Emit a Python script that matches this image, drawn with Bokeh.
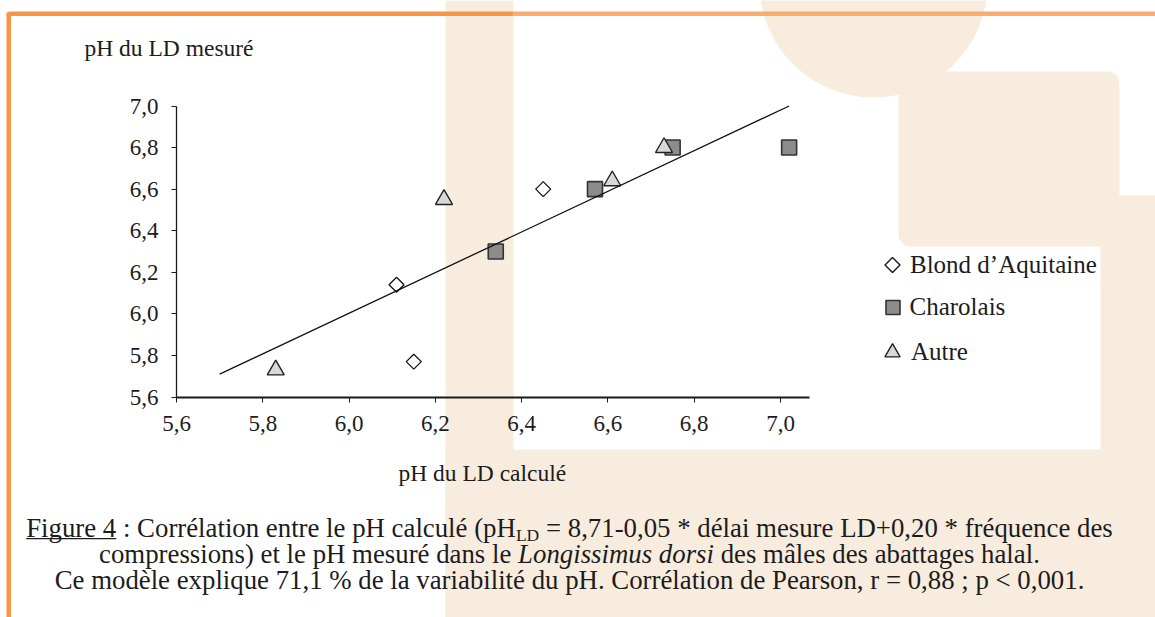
import numpy as np
from bokeh.plotting import figure
from bokeh.models import (Range1d, FixedTicker, CustomJSTickFormatter, Label, BoxAnnotation,
                          PolyAnnotation, Legend, LegendItem)
from bokeh.embed import file_html
from bokeh.resources import INLINE

# ---------------- data ----------------
blond_x = [6.11, 6.15, 6.45]
blond_y = [6.14, 5.77, 6.60]
charolais_x = [6.34, 6.57, 6.75, 7.02]
charolais_y = [6.30, 6.60, 6.80, 6.80]
autre_x = [5.83, 6.22, 6.61, 6.73]
autre_y = [5.73, 6.55, 6.64, 6.80]
trend_x = [5.70, 7.02]
trend_y = [5.71, 7.00]
x_ticks = [5.6, 5.8, 6.0, 6.2, 6.4, 6.6, 6.8, 7.0]
y_ticks = [5.6, 5.8, 6.0, 6.2, 6.4, 6.6, 6.8, 7.0]
x_axis_bounds = (5.6, 7.068)
y_axis_bounds = (5.6, 7.0)
series_names = ["Blond d\u2019Aquitaine", "Charolais", "Autre"]
x_title = "pH du LD calculé"
y_title = "pH du LD mesuré"
cap1 = ["Figure 4", ": Corrélation entre le pH calculé (pH", "LD",
        "= 8,71-0,05 * délai mesure LD+0,20 * fréquence des"]
cap2 = ["compressions) et le pH mesuré dans le", "Longissimus dorsi",
        "des mâles des abattages halal."]
cap3 = "Ce modèle explique 71,1 % de la variabilité du pH. Corrélation de Pearson, r = 0,88 ; p < 0,001."

# ---------------- figure (frame = whole canvas, axes at fixed locations) ----------------
W, H = 1155, 617
AX_L, AX_B = 176.0, 396.5          # pixel position of the axes origin
PX_X, PX_Y = 431.43, 207.857       # pixels per pH unit
x_rng = Range1d(x_axis_bounds[0] - AX_L / PX_X, x_axis_bounds[0] + (W - AX_L) / PX_X)
y_rng = Range1d(y_axis_bounds[0] - (H - AX_B) / PX_Y, y_axis_bounds[0] + AX_B / PX_Y)

p = figure(width=W, height=H, x_range=x_rng, y_range=y_rng,
           output_backend="svg", toolbar_location=None,
           min_border_left=0, min_border_right=0, min_border_top=0, min_border_bottom=0)
p.outline_line_color = None
p.grid.visible = False
p.background_fill_color = "white"
p.border_fill_color = "white"

FONT = "Liberation Serif"
TXT = "#1c1c1c"
BEIGE = "#f8ecdf"

def cbox(l, r, t, b, color=BEIGE, level="underlay", **kw):
    return BoxAnnotation(left=l, right=r, top=t, bottom=b,
                         left_units="canvas", right_units="canvas",
                         top_units="canvas", bottom_units="canvas",
                         fill_color=color, fill_alpha=1, line_color=None,
                         level=level, **kw)

# decorative background shapes
p.add_layout(cbox(445, 513, 0, H))
p.add_layout(cbox(445, W, 449, H))
p.add_layout(cbox(1100, W, 195, H))
p.add_layout(cbox(898, 1119, 71, 246, border_radius=12))
th = np.linspace(0, np.pi, 60)
p.add_layout(PolyAnnotation(xs=list(873 + 114 * np.cos(th)), ys=list(-17 + 114 * np.sin(th)),
                            xs_units="canvas", ys_units="canvas",
                            fill_color=BEIGE, fill_alpha=1, line_color=None, level="underlay"))
# orange frame
p.add_layout(cbox(6, 513, 11, 15.5, color="#f79646", border_radius=(4, 0, 0, 0)))
p.add_layout(cbox(513, W, 11, 15.5, color="#f9ab70"))
p.add_layout(cbox(6, 10.5, 12, H, color="#f79646"))

# ---------------- axes ----------------
fmt = CustomJSTickFormatter(code="return tick.toFixed(1).replace('.', ',');")
xa_, ya_ = p.xaxis[0], p.yaxis[0]
xa_.fixed_location = y_axis_bounds[0]
xa_.bounds = x_axis_bounds
ya_.fixed_location = x_axis_bounds[0]
ya_.bounds = y_axis_bounds
for ax, ticks in ((xa_, x_ticks), (ya_, y_ticks)):
    ax.ticker = FixedTicker(ticks=ticks)
    ax.formatter = fmt
    ax.major_tick_in = 0
    ax.major_tick_out = 5
    ax.minor_tick_line_color = None
    ax.major_tick_line_color = "#1a1a1a"
    ax.axis_line_color = "#1a1a1a"
    ax.major_label_text_font = FONT
    ax.major_label_text_font_size = "23px"
    ax.major_label_text_color = TXT
xa_.axis_line_width = 2
ya_.axis_line_width = 1.3
ya_.major_label_standoff = 13
xa_.major_label_standoff = 14

# ---------------- data marks ----------------
r_blond = p.scatter(blond_x, blond_y, marker="square", angle=np.pi / 4, size=10.6,
                    fill_color="white", line_color="#111111", line_width=1.3)
r_char = p.scatter(charolais_x, charolais_y, marker="square", size=15,
                   fill_color="#8c8c8c", line_color="#333333", line_width=1.6)
r_autre = p.scatter(autre_x, autre_y, marker="triangle", size=17,
                    fill_color="#d9d9d9", line_color="#222222", line_width=1.4)
p.line(trend_x, trend_y, line_color="#111111", line_width=1.3)

# legend stand-in for the diamond series (legend glyphs are never rotated)
r_blond_key = p.scatter(x=[], y=[], marker="square", size=1, fill_alpha=0, line_alpha=0)

# ---------------- legends (one per item, for individual marker sizes) ----------------
LEG_X = 892  # centre of legend symbols
specs = [(r_blond_key, series_names[0], 2, 36, 17, 264.5),
         (r_char, series_names[1], 35, 36, 0, 307.0),
         (r_autre, series_names[2], 38, 38, 0, 351.5)]
for rend, name, gw, gh, so, yc in specs:
    lg = Legend(items=[LegendItem(label=name, renderers=[rend])],
                location=(LEG_X - gw / 2, H - (yc + gh / 2)),
                glyph_width=gw, glyph_height=gh, label_height=gh, label_standoff=so,
                padding=0, margin=0, spacing=0, border_line_color=None,
                background_fill_alpha=0, label_text_font=FONT,
                label_text_font_size="25px", label_text_color=TXT)
    p.add_layout(lg)
yc0 = specs[0][5]
p.add_layout(PolyAnnotation(xs=[LEG_X, LEG_X + 7.5, LEG_X, LEG_X - 7.5],
                            ys=[yc0 - 7.5, yc0, yc0 + 7.5, yc0],
                            xs_units="canvas", ys_units="canvas",
                            fill_color="white", fill_alpha=1,
                            line_color="#111111", line_alpha=1, line_width=1.4))

# ---------------- texts ----------------
def clabel(x, y, text, size, align="left", style="normal"):
    return Label(x=x, y=y, x_units="canvas", y_units="canvas", text=text,
                 text_font=FONT, text_font_size=f"{size}px", text_align=align,
                 text_baseline="middle", text_font_style=style, text_color=TXT)

p.add_layout(clabel(84, 47, y_title, 23.5))
p.add_layout(clabel(398, 472, x_title, 23.5))

FS = 26.8
SP = 0.25 * FS
SUB = 17.5
CX = 569
c1, c2, c3 = 527, 553, 579
wA, wB, wC, wD = 3.361 * FS, 14.913 * FS, 1.333 * SUB, 21.401 * FS
xa = CX - (wA + wB + wC + wD) / 2
p.add_layout(clabel(xa, c1, cap1[0], FS))
p.add_layout(cbox(xa, xa + wA, c1 + 10.5, c1 + 11.8, color=TXT, level="annotation"))
p.add_layout(clabel(xa + wA + SP, c1, cap1[1], FS))
p.add_layout(clabel(xa + wA + wB, c1 + 7, cap1[2], SUB))
p.add_layout(clabel(xa + wA + wB + wC + SP, c1, cap1[3], FS))

wE, wF, wG = 15.636 * FS, 7.307 * FS, 12.164 * FS
xe = CX - (wE + wF + wG) / 2
p.add_layout(clabel(xe, c2, cap2[0], FS))
p.add_layout(clabel(xe + wE, c2, cap2[1], FS, style="italic"))
p.add_layout(clabel(xe + wE + wF + SP, c2, cap2[2], FS))

p.add_layout(clabel(CX, c3, cap3, FS, align="center"))

open("out.html", "w").write(file_html(p, INLINE))
